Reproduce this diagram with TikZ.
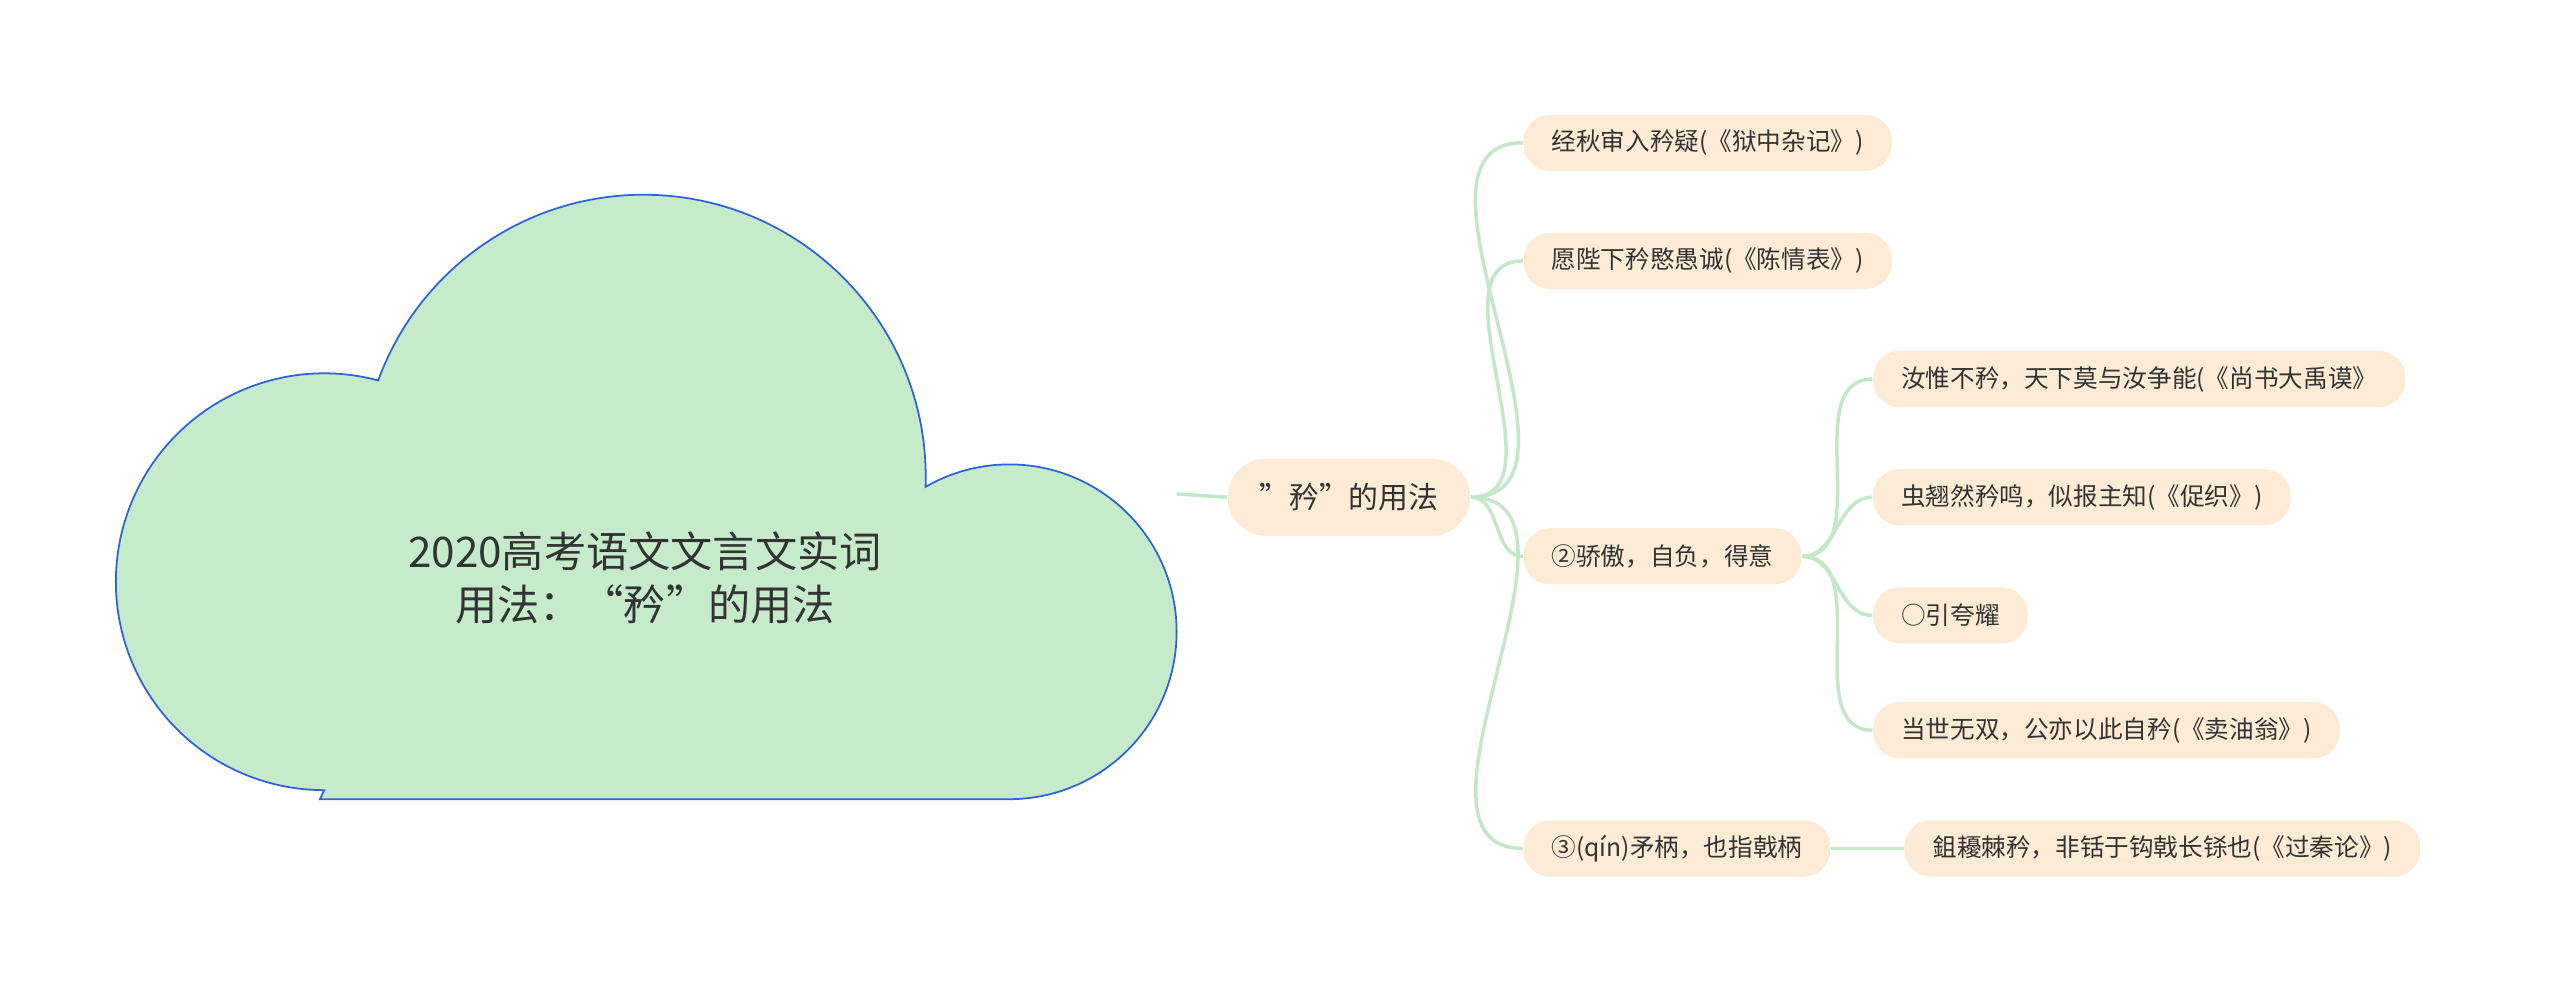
\documentclass[tikz,border=0pt]{standalone}
\usepackage{fontspec}
\setmainfont{Noto Sans CJK SC}
\definecolor{cloudfill}{HTML}{C6EBCB}
\definecolor{cloudline}{HTML}{2E62D9}
\definecolor{leaffill}{HTML}{FDEBD6}
\definecolor{linkcol}{HTML}{C3E8C8}
\definecolor{txt}{HTML}{333333}
\tikzset{
  leaf/.style={fill=leaffill, rounded corners=7.5pt, minimum height=16pt, inner xsep=8pt, anchor=west, font=\fontsize{7pt}{8pt}\selectfont, text=txt},
  rootbox/.style={fill=leaffill, rounded corners=11pt, minimum height=22pt, minimum width=69pt, font=\fontsize{8.5pt}{10pt}\selectfont, text=txt},
  link/.style={draw=linkcol, line width=1pt}
}
\begin{document}
\begin{tikzpicture}[x=0.01641cm, y=0.01641cm]
    \useasboundingbox (0,0) rectangle (1560,-603);

    % cloud
    \draw[fill=cloudfill, draw=cloudline, line width=0.5pt] (195,-487) -- (615,-487)
        arc[start angle=-90, end angle=120, radius=102]
        arc[start angle=-2, end angle=160, radius=172]
        arc[start angle=75, end angle=270, radius=127] -- cycle;
    \node[align=center, text=txt, font=\fontsize{12pt}{15pt}\selectfont] (title) at (393,-352) {2020高考语文文言文实词\\用法：“矜”的用法};

    \coordinate (stub) at (717,-301);
    \node[rootbox] (root) at (822,-303) {"矜"的用法};
    \draw[link] (stub) -- (root.west);

    \node[leaf] (a1) at (928,-87) {经秋审入矜疑(《狱中杂记》)};
    \node[leaf] (a2) at (928,-159) {愿陛下矜愍愚诚(《陈情表》)};
    \node[leaf] (a3) at (928,-339) {②骄傲，自负，得意};
    \node[leaf] (a4) at (928,-517) {③(qín)矛柄，也指戟柄};

    \node[leaf] (b1) at (1141,-231) {汝惟不矜，天下莫与汝争能(《尚书大禹谟》};
    \node[leaf] (b2) at (1141,-303) {虫翘然矜鸣，似报主知(《促织》)};
    \node[leaf] (b3) at (1141,-375) {○引夸耀};
    \node[leaf] (b4) at (1141,-445) {当世无双，公亦以此自矜(《卖油翁》)};
    \node[leaf] (b5) at (1160,-517) {鉏耰棘矜，非铦于钩戟长铩也(《过秦论》)};

    \foreach \n in {a1,a2,a3,a4}
        \draw[link] (root.east) to[out=0, in=180] (\n.west);
    \foreach \n in {b1,b2,b3,b4}
        \draw[link] (a3.east) to[out=0, in=180] (\n.west);
    \draw[link] (a4.east) -- (b5.west);
\end{tikzpicture}
\end{document}
